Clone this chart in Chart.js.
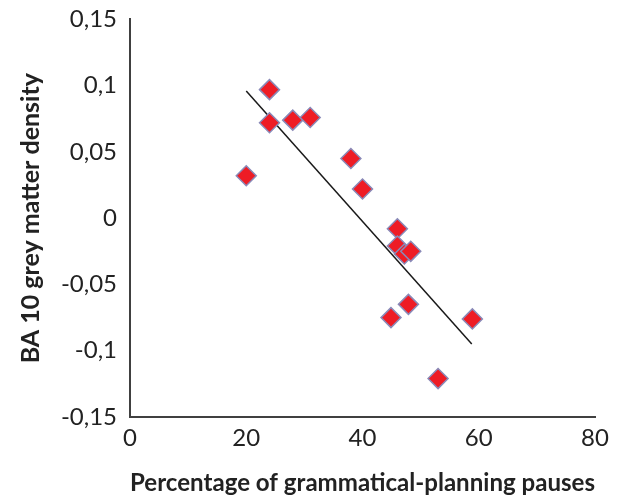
<!DOCTYPE html>
<html>
<head>
<meta charset="utf-8">
<script src="https://cdn.jsdelivr.net/npm/chart.js@4"></script>
<style>
  html, body { margin: 0; padding: 0; background: #fff; }
  #wrap { width: 631px; height: 502px; }
</style>
</head>
<body>
<div id="wrap"><canvas id="grafico"></canvas></div>
<script>
// pausas de planificación gramatical (%) vs densidad de sustancia gris BA 10
const pausas   = [20, 24, 24, 28, 31, 38, 40, 46, 46, 47.2, 48.3, 47.9, 44.9, 58.9, 53];
const densidad = [0.032, 0.097, 0.072, 0.074, 0.076, 0.045, 0.022, -0.008, -0.021, -0.027, -0.025, -0.065, -0.075, -0.076, -0.121];

// extremos de la recta de tendencia
const tendenciaX = [20, 58.8];
const tendenciaY = [0.096, -0.095];

const xTicks = ["0", "20", "40", "60", "80"];
const yTicks = ["-0,15", "-0,1", "-0,05", "0", "0,05", "0,1", "0,15"];

const texto = "#222222";
const fuente = "Lato";

new Chart(document.getElementById("grafico"), {
  type: "scatter",
  data: {
    datasets: [
      {
        label: "Participantes",
        data: pausas.map((x, i) => ({ x: x, y: densidad[i] })),
        pointStyle: "rectRot",
        pointRadius: 10,
        pointBackgroundColor: "#ee1c25",
        pointBorderColor: "#8a8ab8",
        pointBorderWidth: 1.5
      },
      {
        label: "Tendencia",
        type: "line",
        data: tendenciaX.map((x, i) => ({ x: x, y: tendenciaY[i] })),
        borderColor: "#1a1a1a",
        borderWidth: 1.5,
        pointRadius: 0,
        fill: false
      }
    ]
  },
  options: {
    responsive: true,
    maintainAspectRatio: false,
    animation: false,
    layout: { padding: { top: 19, right: 36, left: 0, bottom: 0 } },
    plugins: {
      legend: { display: false },
      tooltip: { enabled: false }
    },
    scales: {
      x: {
        type: "linear",
        min: 0,
        max: 80,
        ticks: {
          stepSize: 20,
          padding: 7,
          color: texto,
          font: { family: fuente, size: 24 },
          callback: (v, i) => xTicks[i]
        },
        grid: { display: false, drawTicks: false },
        border: { color: "#404040", width: 2 },
        title: {
          display: true,
          text: "Percentage of grammatical-planning pauses",
          color: texto,
          font: { family: fuente, size: 25, weight: "bold" },
          padding: { top: 0 }
        },
        afterFit: (s) => { s.height = 85; }
      },
      y: {
        min: -0.15,
        max: 0.15,
        ticks: {
          stepSize: 0.05,
          padding: 5,
          color: texto,
          font: { family: fuente, size: 24 },
          callback: (v, i) => yTicks[i]
        },
        grid: { display: false, drawOnChartArea: false, drawTicks: true, tickLength: 8, tickColor: "#404040", tickWidth: 2 },
        border: { color: "#404040", width: 2 },
        title: {
          display: true,
          text: "BA 10 grey matter density",
          color: texto,
          font: { family: fuente, size: 25, weight: "bold" },
          padding: { top: 16, bottom: 0 }
        },
        afterFit: (s) => { s.width = 130; }
      }
    }
  }
});
</script>
</body>
</html>
